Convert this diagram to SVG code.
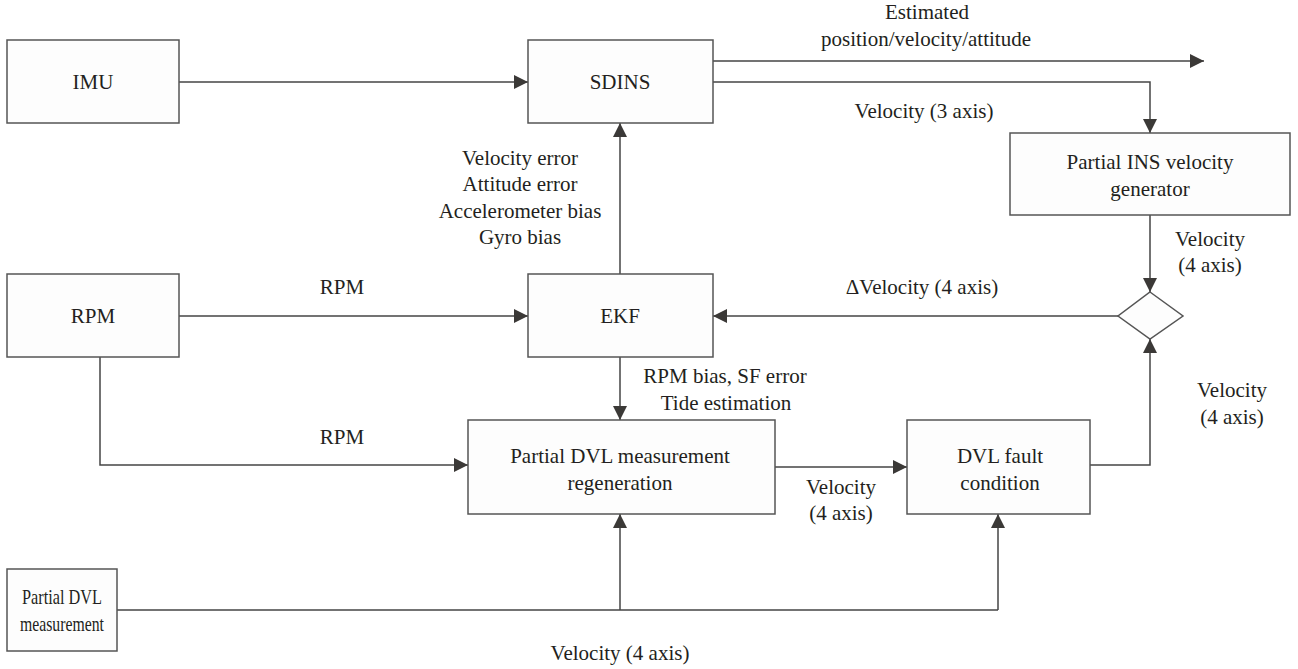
<svg xmlns="http://www.w3.org/2000/svg" width="1298" height="669" viewBox="0 0 1298 669">
<defs>
<marker id="ah" markerUnits="userSpaceOnUse" markerWidth="14" markerHeight="14" refX="14" refY="7" orient="auto">
<path d="M0,0 L14,7 L0,14 z" fill="#3b3937"/>
</marker>
<style>
.box{fill:#fdfdfd;stroke:#555555;stroke-width:1.5}
.ln{fill:none;stroke:#454545;stroke-width:1.5}
.ar{fill:none;stroke:#454545;stroke-width:1.5;marker-end:url(#ah)}
.t{font-family:"Liberation Serif","Times New Roman",serif;font-size:21px;fill:#231f20;text-anchor:middle}
</style>
</defs>
<rect width="1298" height="669" fill="#ffffff"/>
<g id="connectors">
<path class="ar" d="M179,82 H528"/>
<path class="ar" d="M713,61 H1204"/>
<path class="ar" d="M713,82 H1150 V133"/>
<path class="ar" d="M1150,215 V292"/>
<path class="ar" d="M1118,316 H713"/>
<path class="ar" d="M620,274 V123"/>
<path class="ar" d="M179,316 H528"/>
<path class="ar" d="M100,357 V465 H468"/>
<path class="ar" d="M620,357 V420"/>
<path class="ar" d="M775,467 H907"/>
<path class="ar" d="M1090,465 H1150 V339"/>
<path class="ln" d="M117,610 H998"/>
<path class="ar" d="M620,610 V514"/>
<path class="ar" d="M998,610 V514"/>
<g class="t" font-family="Liberation Serif, serif" font-size="21">
<text x="927" y="19">Estimated</text>
<text x="926" y="46">position/velocity/attitude</text>
<text x="924" y="118">Velocity (3 axis)</text>
<text x="1210" y="246">Velocity</text>
<text x="1210" y="272">(4 axis)</text>
<text x="922" y="294">ΔVelocity (4 axis)</text>
<text x="520" y="165">Velocity error</text>
<text x="520" y="191">Attitude error</text>
<text x="520" y="218">Accelerometer bias</text>
<text x="520" y="244">Gyro bias</text>
<text x="342" y="294">RPM</text>
<text x="342" y="444">RPM</text>
<text x="725" y="383">RPM bias, SF error</text>
<text x="726" y="410">Tide estimation</text>
<text x="841" y="494">Velocity</text>
<text x="841" y="520">(4 axis)</text>
<text x="1232" y="397">Velocity</text>
<text x="1232" y="424">(4 axis)</text>
<text x="620" y="660">Velocity (4 axis)</text>
</g>
</g>
<g class="t" font-family="Liberation Serif, serif" font-size="21">
<g id="imu"><rect class="box" x="7" y="40" width="172" height="83"/><text x="93" y="89">IMU</text></g>
<g id="sdins"><rect class="box" x="528" y="40" width="185" height="83"/><text x="620" y="89">SDINS</text></g>
<g id="pins"><rect class="box" x="1010" y="133" width="280" height="82"/><text x="1150" y="169">Partial INS velocity</text><text x="1150" y="196">generator</text></g>
<g id="diamond"><path class="box" d="M1150,292 L1183,316 L1150,339 L1118,316 z"/></g>
<g id="rpm"><rect class="box" x="7" y="274" width="172" height="83"/><text x="93" y="323">RPM</text></g>
<g id="ekf"><rect class="box" x="528" y="274" width="185" height="83"/><text x="620" y="323">EKF</text></g>
<g id="regen"><rect class="box" x="468" y="420" width="307" height="94"/><text x="620" y="463">Partial DVL measurement</text><text x="620" y="490">regeneration</text></g>
<g id="fault"><rect class="box" x="907" y="420" width="183" height="94"/><text x="1000" y="463">DVL fault</text><text x="1000" y="490">condition</text></g>
<g id="pdvl"><rect class="box" x="7" y="569" width="110" height="82"/><text x="62" y="604" textLength="80" lengthAdjust="spacingAndGlyphs">Partial DVL</text><text x="62" y="631" textLength="84" lengthAdjust="spacingAndGlyphs">measurement</text></g>
</g>
</svg>
